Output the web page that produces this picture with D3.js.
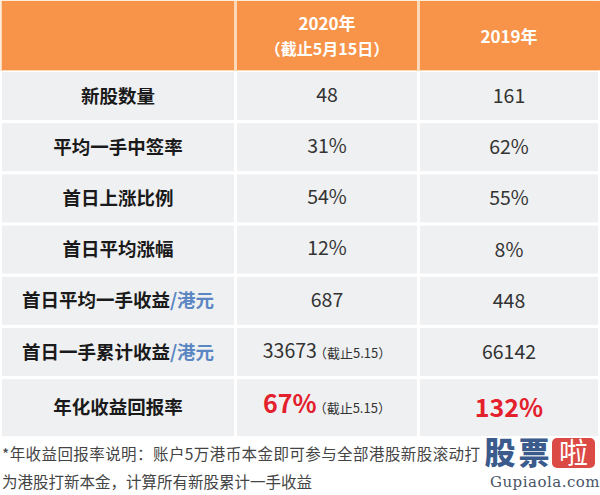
<!DOCTYPE html>
<html><head><meta charset="utf-8">
<script src="https://cdn.jsdelivr.net/npm/d3@7"></script>
<style>
html,body{margin:0;padding:0;background:#fff;}
svg{display:block;font-family:"Noto Sans CJK SC","Noto Sans",sans-serif;}
</style></head>
<body>
<svg id="chart" width="600" height="495"></svg>
<script>
// ---- data ----
const columnYears = ["2020年", "2019年"];
const columnSubtitles = ["（截止5月15日）", ""];
const rowLabels = ["新股数量", "平均一手中签率", "首日上涨比例", "首日平均涨幅", "首日平均一手收益", "首日一手累计收益", "年化收益回报率"];
const rowUnits = ["", "", "", "", "/港元", "/港元", ""];
const values2020 = ["48", "31%", "54%", "12%", "687", "33673", "67%"];
const values2019 = ["161", "62%", "55%", "8%", "448", "66142", "132%"];
const notes2020 = ["", "", "", "", "", "（截止5.15）", "（截止5.15）"];
const highlightRow = 6;
const footnoteLines = ["*年收益回报率说明：账户5万港币本金即可参与全部港股新股滚动打", "为港股打新本金，计算所有新股累计一手收益"];
const logoChars = ["股", "票"];
const logoBadge = "啦";
const logoSite = "Gupiaola.com";

// ---- layout ----
const svg = d3.select("#chart");
const colEdges = [2, 237, 420, 598];
const colGap = 3;
const xLeft = i => colEdges[i];
const xWidth = i => colEdges[i + 1] - colEdges[i] - (i < 2 ? colGap : 0);
const xCenter = i => xLeft(i) + xWidth(i) / 2;

const headerTop = 1, headerBottom = 70;
const rowScale = d3.scaleLinear().domain([0, 1]).range([72, 123.2]);
const rowH = i => i === rowLabels.length - 1 ? 57 : 48;

// header
const orange = "#f7944a";
svg.append("rect").attr("x", 0.5).attr("y", 0.5).attr("width", 599).attr("height", headerBottom + 0.5)
  .attr("fill", "#fbd9b8");
[0, 1, 2].forEach(c => {
  svg.append("rect").attr("x", xLeft(c)).attr("y", headerTop).attr("width", xWidth(c) + (c === 2 ? 2 : 0))
    .attr("height", headerBottom - headerTop).attr("fill", orange);
});
columnYears.forEach((y, i) => {
  const cx = xCenter(i + 1);
  const hasSub = columnSubtitles[i] !== "";
  svg.append("text").attr("x", cx).attr("y", hasSub ? 30 : 43)
    .attr("text-anchor", "middle").attr("fill", "#fff").attr("font-weight", 700)
    .attr("font-size", 17).text(y);
  if (hasSub) {
    svg.append("text").attr("x", cx).attr("y", 55)
      .attr("text-anchor", "middle").attr("fill", "#fff").attr("font-weight", 700)
      .attr("font-size", 16).text(columnSubtitles[i]);
  }
});

// body rows
const cellFill = "#eff0f2";
rowLabels.forEach((lab, r) => {
  const top = rowScale(r), h = rowH(r), cy = top + h / 2;
  [0, 1, 2].forEach(c => {
    svg.append("rect").attr("x", xLeft(c)).attr("y", top).attr("width", xWidth(c))
      .attr("height", h).attr("fill", cellFill);
  });
  // label
  const t = svg.append("text").attr("x", xCenter(0)).attr("y", cy).attr("dy", "0.36em")
    .attr("text-anchor", "middle").attr("font-size", 18.5).attr("font-weight", 700).attr("fill", "#1a1a1a");
  t.append("tspan").text(lab);
  if (rowUnits[r]) t.append("tspan").attr("fill", "#5a86c2").text(rowUnits[r]);

  const isHi = r === highlightRow;
  // 2020 value
  const v1 = svg.append("text").attr("x", xCenter(1)).attr("y", cy).attr("dy", "0.36em")
    .attr("text-anchor", "middle");
  v1.append("tspan").attr("font-size", isHi ? 25 : 19.5).attr("font-weight", isHi ? 700 : 400)
    .attr("fill", isHi ? "#e3202b" : "#333").text(values2020[r]);
  if (notes2020[r]) v1.append("tspan").attr("dx", -3).attr("font-size", 13).attr("fill", "#333").text(notes2020[r]);
  // 2019 value
  svg.append("text").attr("x", xCenter(2)).attr("y", cy).attr("dy", "0.36em")
    .attr("text-anchor", "middle").attr("font-size", isHi ? 25 : 19.5).attr("font-weight", isHi ? 700 : 400)
    .attr("fill", isHi ? "#e3202b" : "#333").text(values2019[r]);
});

// footnote
footnoteLines.forEach((line, i) => {
  svg.append("text").attr("x", 2).attr("y", 460 + i * 28).attr("font-size", 15.5)
    .attr("textLength", i === 0 ? 478 : null)
    .attr("fill", "#444").text(line);
});

// watermark logo
const lg = svg.append("g");
lg.append("rect").attr("x", 482).attr("y", 436).attr("width", 118).attr("height", 59).attr("fill", "#fff").attr("opacity", 0.95);
logoChars.forEach((ch, i) => {
  lg.append("text").attr("x", 500 + i * 34).attr("y", 464).attr("text-anchor", "middle")
    .attr("font-size", 31).attr("font-weight", 900).attr("fill", "#3b5b8c").text(ch);
});
lg.append("rect").attr("x", 552).attr("y", 438).attr("width", 43).attr("height", 30).attr("rx", 5).attr("fill", "#dc4a45");
lg.append("text").attr("x", 573.5).attr("y", 464).attr("text-anchor", "middle")
  .attr("font-size", 29).attr("font-weight", 400).attr("fill", "#fff").text(logoBadge);
lg.append("text").attr("x", 545).attr("y", 487).attr("text-anchor", "middle")
  .attr("font-family", "'DejaVu Serif','Liberation Serif',serif").attr("font-size", 15)
  .attr("letter-spacing", 0.5).attr("fill", "#4a5568").text(logoSite);
</script>
</body></html>
